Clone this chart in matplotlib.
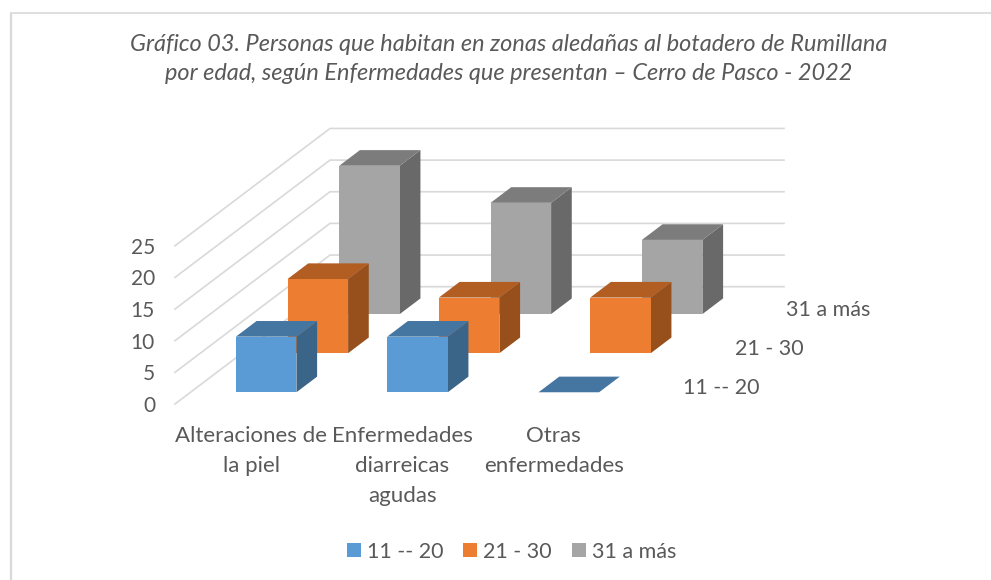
import matplotlib
matplotlib.use("Agg")
import matplotlib.pyplot as plt
from matplotlib.patches import Polygon, Rectangle

# ---- data ----
categories = ["Alteraciones de\nla piel", "Enfermedades\ndiarreicas\nagudas", "Otras\nenfermedades"]
series_names = ["11 -- 20", "21 - 30", "31 a más"]
values_11_20 = [9, 9, 0]
values_21_30 = [12, 9, 9]
values_31_mas = [24, 18, 12]
y_ticks = [0, 5, 10, 15, 20, 25]
title_text = ("Gráfico 03. Personas que habitan en zonas aledañas al botadero de Rumillana\n"
              "por edad, según Enfermedades que presentan – Cerro de Pasco - 2022")

series_values = [values_11_20, values_21_30, values_31_mas]
front_colors = ["#5B9BD5", "#ED7D31", "#A5A5A5"]
top_colors = ["#4575A1", "#B25D22", "#7C7C7C"]
side_colors = ["#3A6488", "#97501C", "#696969"]
TEXT = "#595959"
GRID = "#D9D9D9"

plt.rcParams["font.family"] = ["Lato", "DejaVu Sans"]
W, H = 991, 580
fig = plt.figure(figsize=(W / 100, H / 100), dpi=100, facecolor="white")
ax = fig.add_axes([0, 0, 1, 1])
ax.set_xlim(0, W)
ax.set_ylim(H, 0)
ax.axis("off")

# oblique projection of the 3-D chart box onto the axes
OX, OY = 175.0, 404.0
CAT_W = 151.33
DEP_X, DEP_Y = 51.67, 39.1
GRID_K, BAR_K = 6.33, 6.18


def proj(c, d, v, k=BAR_K):
    return (OX + CAT_W * c + DEP_X * d, OY - DEP_Y * d - k * v)


n_cat = len(categories)
n_ser = len(series_names)

# chart frame: only the left and top edges fall inside the picture
ax.plot([11, 11], [H, 12.5], color=GRID, lw=1.6, zorder=1, solid_capstyle="butt")
ax.plot([10.2, W], [12.5, 12.5], color=GRID, lw=1.2, zorder=1, solid_capstyle="butt")

# gridlines: left wall and back wall
for t in y_ticks:
    pts = [proj(0, 0, t, GRID_K), proj(0, n_ser, t, GRID_K), proj(n_cat, n_ser, t, GRID_K)]
    ax.plot([p[0] for p in pts], [p[1] for p in pts], color=GRID, lw=1.2, zorder=1,
            solid_joinstyle="miter")
    ax.text(155, proj(0, 0, t, GRID_K)[1] + 2, str(t), ha="right", va="center",
            fontsize=15, color=TEXT)

# bars, back row first
GAP, BW = 0.3, 0.4
z = 2
for j in reversed(range(n_ser)):
    for i in range(n_cat):
        v = series_values[j][i]
        c0, c1 = i + GAP, i + GAP + BW
        d0, d1 = j + GAP, j + GAP + BW
        if v > 0:
            ax.add_patch(Polygon([proj(c1, d0, 0), proj(c1, d1, 0), proj(c1, d1, v), proj(c1, d0, v)],
                                 fc=side_colors[j], ec="none", zorder=z))
            ax.add_patch(Polygon([proj(c0, d0, 0), proj(c1, d0, 0), proj(c1, d0, v), proj(c0, d0, v)],
                                 fc=front_colors[j], ec="none", zorder=z))
        ax.add_patch(Polygon([proj(c0, d0, v), proj(c1, d0, v), proj(c1, d1, v), proj(c0, d1, v)],
                             fc=top_colors[j], ec="none", zorder=z))
        z += 1

# category labels
for i, label in enumerate(categories):
    ax.text(proj(i + 0.5, 0, 0)[0] + 0.5, 426, label, ha="center", va="top", fontsize=16,
            color=TEXT, linespacing=1.62)

# series labels on the depth axis
series_label_x = [683, 735, 786]
series_label_y = [388, 349, 310]
for name, lx, ly in zip(series_names, series_label_x, series_label_y):
    ax.text(lx, ly, name, ha="left", va="center", fontsize=15.5, color=TEXT)

# title
ax.text(509, 59, title_text, ha="center", va="center", fontsize=16.9, style="italic",
        color=TEXT, linespacing=1.45)

# legend
legend_sq_x = [347, 463, 572]
for name, color, sx in zip(series_names, front_colors, legend_sq_x):
    ax.add_patch(Rectangle((sx, 543), 14, 14, fc=color, ec="none"))
    ax.text(sx + 20, 551.5, name, ha="left", va="center", fontsize=15.5, color=TEXT)

fig.savefig("out.png", dpi=100, facecolor="white")
